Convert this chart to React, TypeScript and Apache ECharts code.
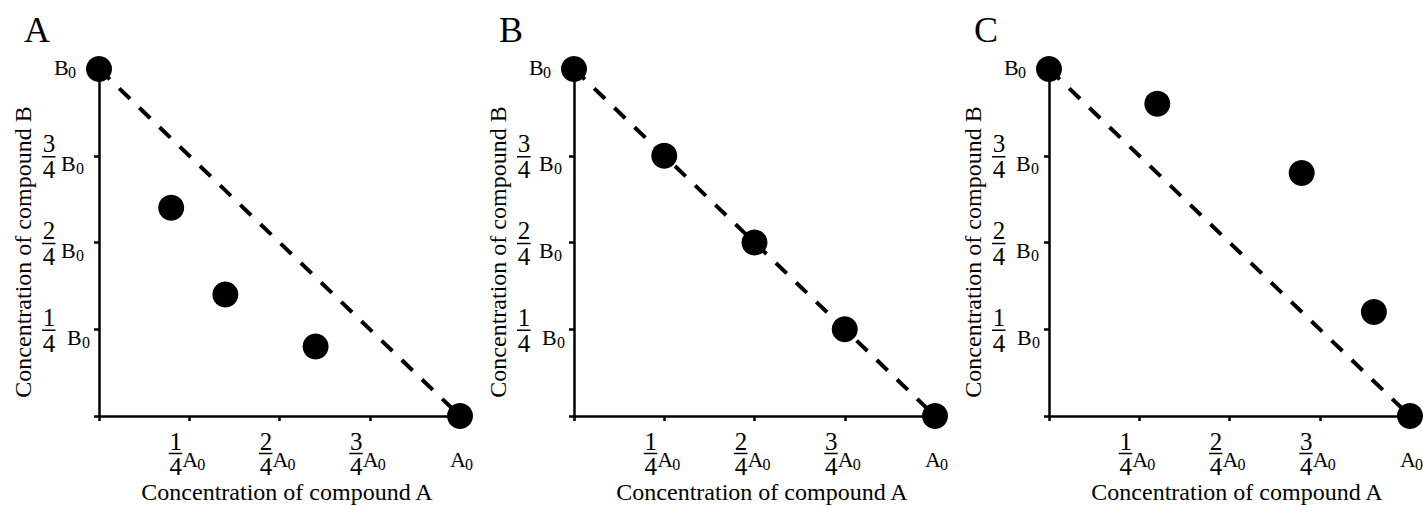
import React, { useEffect, useRef } from "react";
import * as echarts from "echarts";

const panelLetters = ["A", "B", "C"];
const xAxisTitle = "Concentration of compound A";
const yAxisTitle = "Concentration of compound B";

// intermediate measured points per panel
const pointsX = [
  [0.2, 0.35, 0.6],
  [0.25, 0.5, 0.75],
  [0.3, 0.7, 0.9],
];
const pointsY = [
  [0.6, 0.35, 0.2],
  [0.75, 0.5, 0.25],
  [0.9, 0.7, 0.3],
];
// start / end compositions
const endpointX = [0, 1];
const endpointY = [1, 0];

// tick labels
const tickValues = [0.25, 0.5, 0.75, 1];
const tickNumerators = ["1", "2", "3", ""];
const tickDenominator = "4";
const xUnit = "A";
const yUnit = "B";
const unitSub = "0";

const FONT = '"Liberation Serif", "Times New Roman", serif';
const BLACK = "#000";

const GRID_LEFT = 99;
const GRID_TOP = 69;
const GRID_W = 361;
const GRID_H = 347;
const PANEL_STEP = 475;
const Y_UNIT_SHIFT = [0, 3, 5];

const DIGIT_SIZE = 25;
const UNIT_SIZE = 22;
const SUB_SIZE = 16;

function txt(x: number, y: number, text: string, size: number, align: string) {
  return {
    type: "text",
    x,
    y,
    style: {
      text,
      fill: BLACK,
      fontSize: size,
      fontFamily: FONT,
      fontWeight: "normal",
      align,
      verticalAlign: "middle",
    },
  };
}

function xLabelRender(params: any, api: any) {
  const v = api.value(0);
  const p = api.coord([v, 0]);
  const px = p[0];
  const py = p[1];
  const num = tickNumerators[params.dataIndex];
  const children: any[] = [];
  if (num) {
    children.push(txt(px - 13.5, py + 25, num, DIGIT_SIZE, "center"));
    children.push({
      type: "line",
      shape: { x1: px - 20.5, y1: py + 37.5, x2: px - 7, y2: py + 37.5 },
      style: { stroke: BLACK, lineWidth: 1.5 },
    });
    children.push(txt(px - 13.5, py + 50, tickDenominator, DIGIT_SIZE, "center"));
    children.push(txt(px - 7, py + 43, xUnit, UNIT_SIZE, "left"));
    children.push(txt(px + 8, py + 48, unitSub, SUB_SIZE, "left"));
  } else {
    children.push(txt(px - 10, py + 43, xUnit, UNIT_SIZE, "left"));
    children.push(txt(px + 5, py + 48, unitSub, SUB_SIZE, "left"));
  }
  return { type: "group", children };
}

function makeYLabelRender(panel: number) {
  return function yLabelRender(params: any, api: any) {
    const v = api.value(1);
    const p = api.coord([0, v]);
    const px = p[0];
    const py = p[1];
    const num = tickNumerators[params.dataIndex];
    const children: any[] = [];
    if (num) {
      const gap = Math.min((num === "1" ? 6 : 0) + Y_UNIT_SHIFT[panel], 6);
      children.push(txt(px - 50, py - 12, num, DIGIT_SIZE, "center"));
      children.push({
        type: "line",
        shape: { x1: px - 57, y1: py + 1, x2: px - 43.5, y2: py + 1 },
        style: { stroke: BLACK, lineWidth: 1.5 },
      });
      children.push(txt(px - 50, py + 14, tickDenominator, DIGIT_SIZE, "center"));
      children.push(txt(px - 38 + gap, py + 8, yUnit, UNIT_SIZE, "left"));
      children.push(txt(px - 23 + gap, py + 13, unitSub, SUB_SIZE, "left"));
    } else {
      children.push(txt(px - 45, py - 2, yUnit, UNIT_SIZE, "left"));
      children.push(txt(px - 31, py + 3, unitSub, SUB_SIZE, "left"));
    }
    return { type: "group", children };
  };
}

export default function App() {
  const ref = useRef<HTMLDivElement>(null);

  useEffect(() => {
    if (!ref.current) return;
    const chart = echarts.init(ref.current, null, { renderer: "svg" });

    const grids: any[] = [];
    const xAxes: any[] = [];
    const yAxes: any[] = [];
    const series: any[] = [];
    const graphics: any[] = [];

    const axisCommon = {
      type: "value",
      min: 0,
      max: 1,
      interval: 0.25,
      axisLine: { show: true, lineStyle: { color: BLACK, width: 2.5 } },
      axisTick: { show: true, length: 5, lineStyle: { color: BLACK, width: 2.5 } },
      axisLabel: { show: false },
      splitLine: { show: false },
    };

    panelLetters.forEach((letter, i) => {
      const left = GRID_LEFT + PANEL_STEP * i;
      grids.push({ left, top: GRID_TOP, width: GRID_W, height: GRID_H, containLabel: false });
      xAxes.push({ ...axisCommon, gridIndex: i });
      yAxes.push({ ...axisCommon, gridIndex: i });

      series.push({
        type: "line",
        xAxisIndex: i,
        yAxisIndex: i,
        data: endpointX.map((x, k) => [x, endpointY[k]]),
        symbol: "none",
        lineStyle: { color: BLACK, width: 4, type: [15, 13], cap: "butt", opacity: 1 },
        z: 2,
        silent: true,
      });
      series.push({
        type: "scatter",
        xAxisIndex: i,
        yAxisIndex: i,
        data: [
          ...endpointX.map((x, k) => [x, endpointY[k]]),
          ...pointsX[i].map((x, k) => [x, pointsY[i][k]]),
        ],
        symbol: "circle",
        symbolSize: 26,
        itemStyle: { color: BLACK, opacity: 1 },
        clip: false,
        z: 3,
      });
      series.push({
        type: "custom",
        xAxisIndex: i,
        yAxisIndex: i,
        data: tickValues.map((v) => [v, 0]),
        encode: { x: 0, y: 1 },
        renderItem: xLabelRender,
        clip: false,
        z: 4,
      });
      series.push({
        type: "custom",
        xAxisIndex: i,
        yAxisIndex: i,
        data: tickValues.map((v) => [0, v]),
        encode: { x: 0, y: 1 },
        renderItem: makeYLabelRender(i),
        clip: false,
        z: 4,
      });

      graphics.push({
        type: "text",
        x: 24 + PANEL_STEP * i,
        y: 30,
        style: { text: letter, fill: BLACK, fontSize: 36, fontFamily: FONT, align: "left", verticalAlign: "middle" },
      });
      graphics.push({
        type: "text",
        x: 287 + PANEL_STEP * i,
        y: 492,
        style: { text: xAxisTitle, fill: BLACK, fontSize: 24, fontFamily: FONT, align: "center", verticalAlign: "middle" },
      });
      graphics.push({
        type: "text",
        x: 23 + PANEL_STEP * i,
        y: 252,
        rotation: Math.PI / 2,
        style: { text: yAxisTitle, fill: BLACK, fontSize: 24, fontFamily: FONT, align: "center", verticalAlign: "middle" },
      });
    });

    chart.setOption({
      animation: false,
      backgroundColor: "#fff",
      grid: grids,
      xAxis: xAxes,
      yAxis: yAxes,
      series,
      graphic: graphics,
    });

    return () => chart.dispose();
  }, []);

  return (
    <div
      ref={ref}
      style={{ position: "fixed", left: 0, top: 0, width: 1423, height: 507 }}
    />
  );
}
